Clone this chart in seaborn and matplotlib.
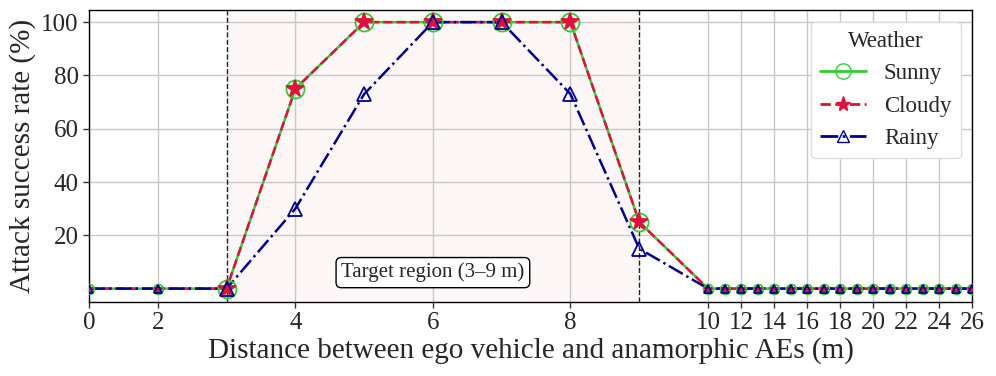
import numpy as np
import pandas as pd
import seaborn as sns
import matplotlib
matplotlib.use("Agg")
import matplotlib.pyplot as plt
from matplotlib.lines import Line2D

# Data
distances = [0, 2, 3, 4, 5, 6, 7, 8, 9] + list(range(10, 27))
sunny = [0, 0, 0, 75, 100, 100, 100, 100, 25] + [0] * 17
cloudy = [0, 0, 0, 75, 100, 100, 100, 100, 25] + [0] * 17
rainy = [0, 0, 0, 30, 73, 100, 100, 73, 15] + [0] * 17
weather = ["Sunny", "Cloudy", "Rainy"]
x_ticks = [0, 2, 4, 6, 8] + list(range(10, 27, 2))
y_ticks = [20, 40, 60, 80, 100]

df = pd.DataFrame({
    "Distance": distances * 3,
    "ASR": sunny + cloudy + rainy,
    "Weather": sum([[w] * len(distances) for w in weather], []),
})

colors = {"Sunny": "#33cc33", "Cloudy": "#dc143c", "Rainy": "#00008b"}
styles = {"Sunny": "-", "Cloudy": "--", "Rainy": "-."}
markers = {"Sunny": "o", "Cloudy": "*", "Rainy": "^"}
big = {"Sunny": 13, "Cloudy": 13, "Rainy": 10}
small = {"Sunny": 7, "Cloudy": 6, "Rainy": 6}
hollow = {"Sunny": True, "Cloudy": False, "Rainy": True}


# piecewise axis: 0-2 squeezed, 2-10 linear, 10-26 compressed
def fwd(d):
    d = np.asarray(d, dtype=float)
    return np.where(d <= 2, d / 2, np.where(d <= 10, d - 1, 9 + (d - 10) * 0.24))


def inv(p):
    p = np.asarray(p, dtype=float)
    return np.where(p <= 1, p * 2, np.where(p <= 9, p + 1, 10 + (p - 9) / 0.24))


sns.set_style("whitegrid")
plt.rcParams["font.family"] = ["Liberation Serif", "DejaVu Serif"]
plt.rcParams["mathtext.fontset"] = "stix"

fig, ax = plt.subplots(figsize=(9.96, 3.76), dpi=100)
fig.subplots_adjust(left=0.0894, right=0.976, top=0.973, bottom=0.197)
ax.set_xscale("function", functions=(fwd, inv))

ax.axvspan(3, 9, color="#fdf3f3", alpha=0.6, zorder=0)
ax.axvline(3, color="#222222", ls="--", lw=1, zorder=1)
ax.axvline(9, color="#222222", ls="--", lw=1, zorder=1)

for w in weather:
    sub = df[df["Weather"] == w]
    sns.lineplot(data=sub, x="Distance", y="ASR", color=colors[w], linestyle=styles[w],
                 lw=1.8, ax=ax, zorder=3)

for w in weather:
    sub = df[df["Weather"] == w]
    inside = sub[(sub["Distance"] >= 3) & (sub["Distance"] <= 9)]
    outside = sub[(sub["Distance"] < 3) | (sub["Distance"] > 9)]
    fc = "none" if hollow[w] else colors[w]
    for part, ms in [(inside, big[w]), (outside, small[w])]:
        ax.plot(part["Distance"], part["ASR"], ls="none", marker=markers[w], ms=ms,
                mfc=fc, mec=colors[w], mew=1.3, zorder=4)

ax.text(6, 6, "Target region (3–9 m)", ha="center", va="center", fontsize=15,
        bbox=dict(boxstyle="round,pad=0.25", fc="white", ec="black", lw=1), zorder=5)

ax.set_xlim(0, 26)
ax.set_ylim(-5, 104.5)
ax.set_xticks(x_ticks)
ax.set_xticklabels([str(t) for t in x_ticks])
ax.set_yticks(y_ticks)
ax.tick_params(labelsize=18, length=4, width=1, color="#333333", bottom=True, left=True,
               direction="out")
ax.grid(True, color="#c8c8c8", lw=1)
for s in ax.spines.values():
    s.set_edgecolor("black")
    s.set_linewidth(1)

ax.set_xlabel("Distance between ego vehicle and anamorphic AEs (m)", fontsize=21, labelpad=2)
ax.set_ylabel("Attack success rate (%)", fontsize=21, labelpad=4)

handles = [Line2D([], [], color=colors[w], ls=styles[w], lw=2, marker=markers[w],
                  ms=big[w] - 2, mfc="none" if hollow[w] else colors[w], mec=colors[w])
           for w in weather]
leg = ax.legend(handles, weather, title="Weather", loc="upper right", fontsize=16.5,
                title_fontsize=16.5, frameon=True, fancybox=True, framealpha=1,
                handlelength=2.0, bbox_to_anchor=(1.0, 1.0))
leg.get_frame().set_edgecolor("#dddddd")

plt.savefig("out.png", dpi=100)
